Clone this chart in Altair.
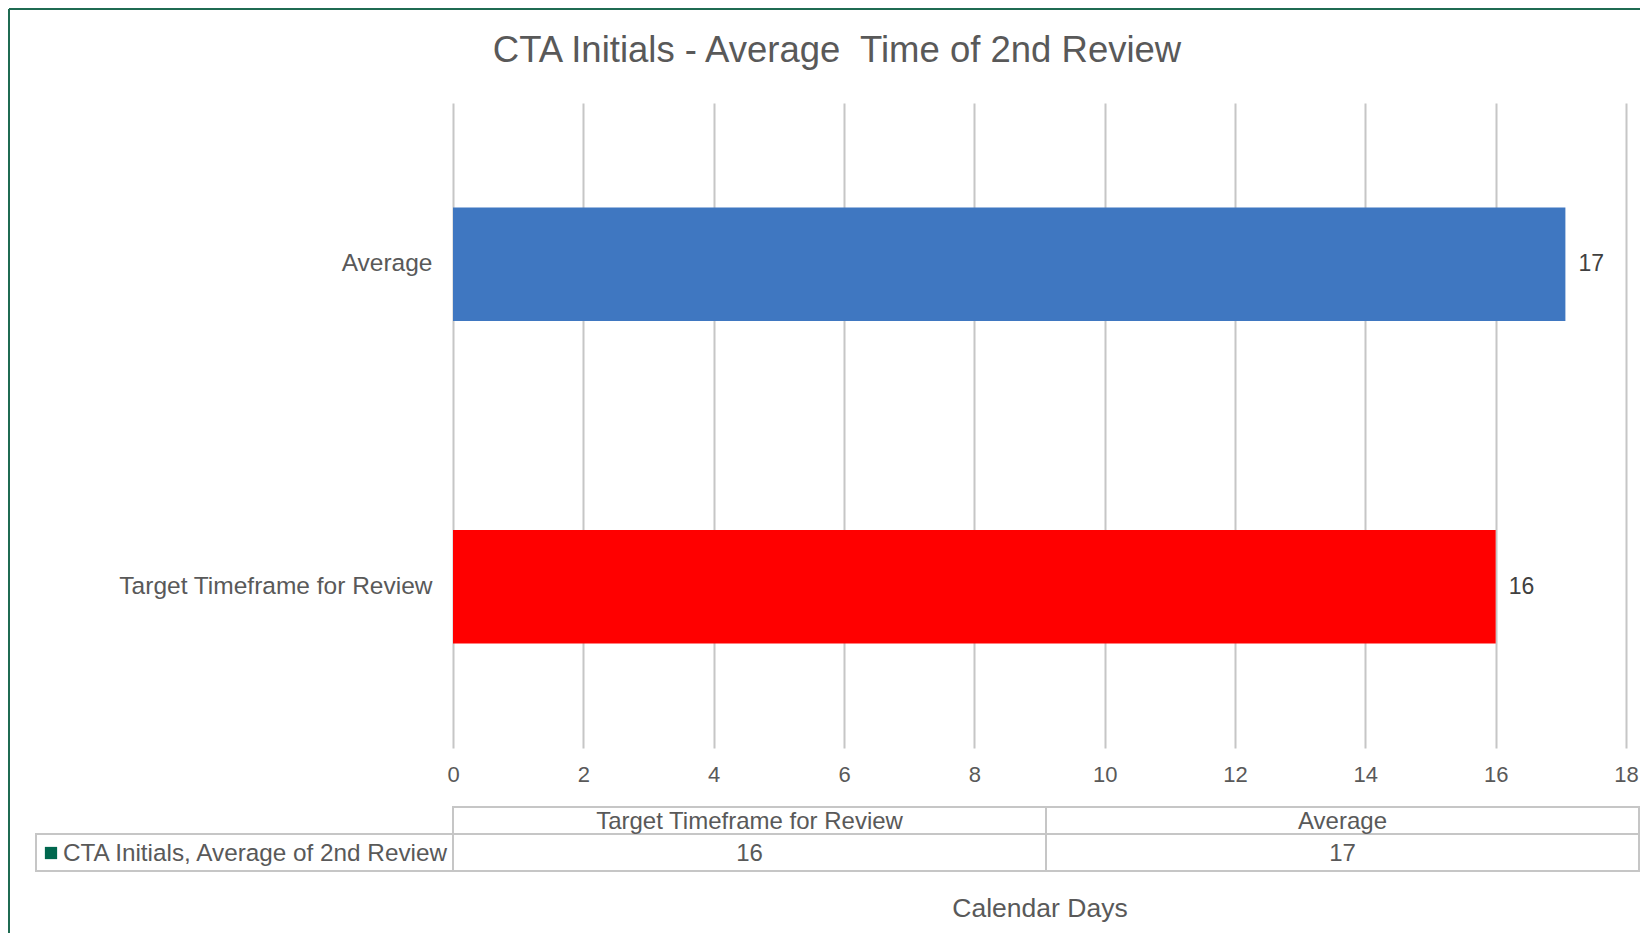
import altair as alt
import pandas as pd

# ---- data ----
categories = ["Target Timeframe for Review", "Average"]
values = [16.0, 17.07]
series_name = ["CTA Initials, Average of 2nd Review"]
chart_title = ["CTA Initials - Average\u00a0 Time of 2nd Review"]
x_title = "Calendar Days"
x_ticks = [0, 2, 4, 6, 8, 10, 12, 14, 16, 18]

# ---- styles ----
bar_colors = ["#FF0000", "#3F77C1"]
FONT = "Liberation Sans"
GRAY = "#595959"
GRID = "#c6c6c6"
GREEN = "#1F6B52"
W, H = 1173, 645
TABLE_W = 1186

df = pd.DataFrame({"category": categories, "value": values})
row_df = pd.DataFrame({"series": series_name})
title_df = pd.DataFrame({"t": chart_title})

y_enc = alt.Y(
    "category:N",
    sort=categories[::-1],
    scale=alt.Scale(paddingInner=0.648, paddingOuter=0.324),
    axis=alt.Axis(title=None, domain=False, ticks=False, tickSize=0, labelPadding=21,
                  labelFontSize=24.5, labelColor=GRAY, labelFont=FONT, grid=False, labelLimit=500),
)
x_enc = alt.X(
    "value:Q",
    scale=alt.Scale(domain=[0, 18], nice=False, zero=True),
    axis=alt.Axis(values=x_ticks, title=x_title, domain=False, ticks=False, tickSize=0,
                  grid=True, gridColor=GRID, gridWidth=2, labelFlush=False,
                  labelPadding=16, labelFontSize=22, labelColor=GRAY, labelFont=FONT,
                  titleFontSize=26.5, titleColor=GRAY, titleFont=FONT, titleFontWeight="normal",
                  titleY=160, titleBaseline="middle"),
)

bars = alt.Chart(df).mark_bar().encode(
    y=y_enc,
    x=x_enc,
    color=alt.Color("category:N", scale=alt.Scale(domain=categories, range=bar_colors), legend=None),
)
bar_labels = alt.Chart(df).mark_text(
    align="left", baseline="middle", dx=13, fontSize=23, font=FONT, color="#404040"
).encode(y=y_enc, x=x_enc, text=alt.Text("value:Q", format=".0f"))

plot = alt.layer(bars, bar_labels)

# ---- data table below the axis ----
tx = alt.X("category:N", sort=categories,
           scale=alt.Scale(range=[0, TABLE_W], paddingInner=0, paddingOuter=0), axis=None)

head_rect = alt.Chart(df).mark_rect(fill="white", stroke=GRID, strokeWidth=2).encode(
    x=tx, y=alt.value(704), y2=alt.value(731))
data_rect = alt.Chart(df).mark_rect(fill="white", stroke=GRID, strokeWidth=2).encode(
    x=tx, y=alt.value(731), y2=alt.value(768))
head_text = alt.Chart(df).mark_text(baseline="middle", fontSize=24, font=FONT, color=GRAY).encode(
    x=tx, y=alt.value(719), text="category:N")
val_text = alt.Chart(df).mark_text(baseline="middle", fontSize=24, font=FONT, color=GRAY).encode(
    x=tx, y=alt.value(751), text=alt.Text("value:Q", format=".0f"))

table = alt.layer(head_rect, data_rect, head_text, val_text)

row_rect = alt.Chart(row_df).mark_rect(fill="white", stroke=GRID, strokeWidth=2).encode(
    x=alt.value(-417), x2=alt.value(0), y=alt.value(731), y2=alt.value(768))
row_key = alt.Chart(row_df).mark_square(size=150, color="#00674E", opacity=1).encode(
    x=alt.value(-402), y=alt.value(750))
row_text = alt.Chart(row_df).mark_text(align="left", baseline="middle", fontSize=24.3, font=FONT,
                                       color=GRAY).encode(
    x=alt.value(-390), y=alt.value(751), text="series:N")

title = alt.Chart(title_df).mark_text(align="center", baseline="alphabetic", fontSize=36.5, font=FONT,
                                      color=GRAY).encode(
    x=alt.value(384), y=alt.value(-41), text="t:N")

border_left = alt.Chart(row_df).mark_rule(color=GREEN, strokeWidth=2).encode(
    x=alt.value(-444), y=alt.value(-94), y2=alt.value(840))
border_top = alt.Chart(row_df).mark_rule(color=GREEN, strokeWidth=2).encode(
    x=alt.value(-444), x2=alt.value(1190), y=alt.value(-94))

chart = alt.layer(
    plot, table, row_rect, row_key, row_text, title, border_left, border_top
).resolve_scale(x="independent").properties(
    width=W, height=H,
    padding={"left": 445, "top": 95, "right": 14, "bottom": 185},
    autosize=alt.AutoSizeParams(type="none"),
).configure(background="white", view=alt.ViewConfig(stroke=None))

chart.save("out.html", embed_options={"renderer": "svg", "actions": False})
